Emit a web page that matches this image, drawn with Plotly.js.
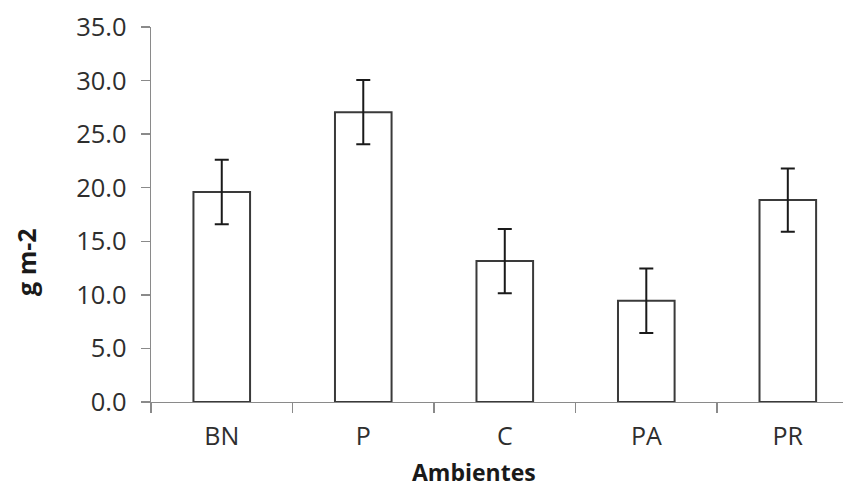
<!DOCTYPE html>
<html>
<head>
<meta charset="utf-8">
<script src="https://cdn.plot.ly/plotly-3.0.1.min.js"></script>
<style>html,body{margin:0;padding:0;background:#fff;}#chart{width:843px;height:487px;}</style>
</head>
<body>
<div id="chart"></div>
<script>
var categories = ["BN", "P", "C", "PA", "PR"];
var values = [19.6, 27.05, 13.15, 9.45, 18.85];
var errors = [3.0, 3.0, 3.0, 3.0, 2.95];
var yTickVals = [0, 5, 10, 15, 20, 25, 30, 35];

var trace = {
  type: "bar",
  x: categories,
  y: values,
  width: 0.4,
  marker: {color: "#ffffff", line: {color: "#3a3a3a", width: 2}},
  error_y: {type: "data", array: errors, visible: true, color: "#1a1a1a", thickness: 2, width: 7},
  hoverinfo: "none"
};

var layout = {
  width: 843, height: 487,
  margin: {l: 151, r: 0, t: 27, b: 85, pad: 0},
  paper_bgcolor: "#fff", plot_bgcolor: "#fff",
  font: {family: "Open Sans, sans-serif", color: "#2e2e2e", size: 26},
  showlegend: false,
  xaxis: {
    type: "category",
    range: [-0.5, 4.39],
    tickson: "boundaries",
    ticks: "outside", ticklen: 10, tickwidth: 1.3, tickcolor: "#8a8a8a",
    showline: true, linecolor: "#8a8a8a", linewidth: 1.3,
    showgrid: false, zeroline: false,
    ticklabelstandoff: 12,
    tickfont: {size: 25, color: "#2e2e2e"}
  },
  yaxis: {
    range: [0, 35],
    tickvals: yTickVals,
    tickformat: ".1f",
    ticks: "outside", ticklen: 9, tickwidth: 1.3, tickcolor: "#8a8a8a",
    showline: true, linecolor: "#8a8a8a", linewidth: 1.3,
    showgrid: false, zeroline: false,
    ticklabelstandoff: 9,
    tickfont: {size: 25.5, color: "#2e2e2e"}
  },
  annotations: [
    {text: "<b>Ambientes</b>", xref: "paper", yref: "paper", x: (474 - 151) / 692, y: 0, showarrow: false,
     font: {size: 23, color: "#1a1a1a"}, xanchor: "center", yanchor: "middle", yshift: -70},
    {text: "<b>g m-2</b>", xref: "paper", yref: "paper", x: 0, y: (402.3 - 262) / 375.6, showarrow: false,
     font: {size: 25, color: "#1a1a1a"}, textangle: -90, xanchor: "center", yanchor: "middle", xshift: -125}
  ]
};

Plotly.newPlot("chart", [trace], layout, {displayModeBar: false, staticPlot: true});
</script>
</body>
</html>
